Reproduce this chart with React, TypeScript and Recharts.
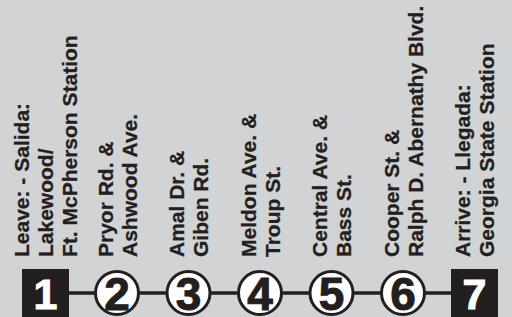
import { LineChart, Line, XAxis, YAxis } from 'recharts'

// timepoints along the route, left to right
const STOPS = [1, 2, 3, 4, 5, 6, 7]
const TERMINAL = [true, false, false, false, false, false, true]
const STOP_LINES: string[][] = [
  ['Leave: - Salida:', 'Lakewood/', 'Ft. McPherson Station'],
  ['Pryor Rd. &', 'Ashwood Ave.'],
  ['Amal Dr. &', 'Giben Rd.'],
  ['Meldon Ave. &', 'Troup St.'],
  ['Central Ave. &', 'Bass St.'],
  ['Cooper St. &', 'Ralph D. Abernathy Blvd.'],
  ['Arrive: - Llegada:', 'Georgia State Station'],
]

const INK = '#231f20'
const BG = '#d1d3d4'
const FONT = '"Liberation Sans", Arial, Helvetica, sans-serif'

const data = STOPS.map((s, i) => ({
  stop: s,
  y: 0,
  terminal: TERMINAL[i],
  lines: STOP_LINES[i],
}))

const LINE_GAP = 24
const TEXT_BOTTOM = 257
const CAP = 15

function Marker(props: any) {
  const { cx, cy, payload, index } = props
  const lines: string[] = payload.lines
  const n = lines.length
  const label = lines.map((t, i) => {
    const bx = cx + (i - (n - 1) / 2) * LINE_GAP + CAP / 2
    return (
      <text
        key={i}
        x={bx}
        y={TEXT_BOTTOM}
        transform={`rotate(-90, ${bx}, ${TEXT_BOTTOM})`}
        fontFamily={FONT}
        fontWeight="bold"
        fontSize={21}
        fill={INK}
        stroke={INK}
        strokeWidth={0.3}
      >
        {t}
      </text>
    )
  })

  return (
    <g key={`m${index}`}>
      {label}
      {payload.terminal ? (
        <>
          <rect x={cx - 23.5} y={cy - 24} width={47} height={48} fill={INK} />
          <text
            x={cx}
            y={cy + 15.5}
            textAnchor="middle"
            fontFamily={FONT}
            fontWeight="bold"
            fontSize={43}
            fill="#ffffff"
            stroke="#ffffff"
            strokeWidth={1}
          >
            {payload.stop}
          </text>
        </>
      ) : (
        <>
          <circle cx={cx} cy={cy} r={21.5} fill="#ffffff" stroke={INK} strokeWidth={3} />
          <text
            x={cx}
            y={cy + 16.5}
            textAnchor="middle"
            fontFamily={FONT}
            fontWeight="bold"
            fontSize={46}
            fill={INK}
            stroke={INK}
            strokeWidth={1}
          >
            {payload.stop}
          </text>
        </>
      )}
    </g>
  )
}

export default function App() {
  return (
    <div style={{ position: 'fixed', left: 0, top: 0, width: 512, height: 317, background: BG }}>
      <LineChart
        width={512}
        height={317}
        data={data}
        margin={{ top: 0, right: 37.5, bottom: 24, left: 45.5 }}
      >
        <XAxis dataKey="stop" type="number" domain={[1, 7]} hide />
        <YAxis domain={[0, 1]} hide />
        <Line
          dataKey="y"
          stroke={INK}
          strokeWidth={3.5}
          dot={(p: any) => <Marker {...p} />}
          activeDot={false}
          isAnimationActive={false}
        />
      </LineChart>
    </div>
  )
}
